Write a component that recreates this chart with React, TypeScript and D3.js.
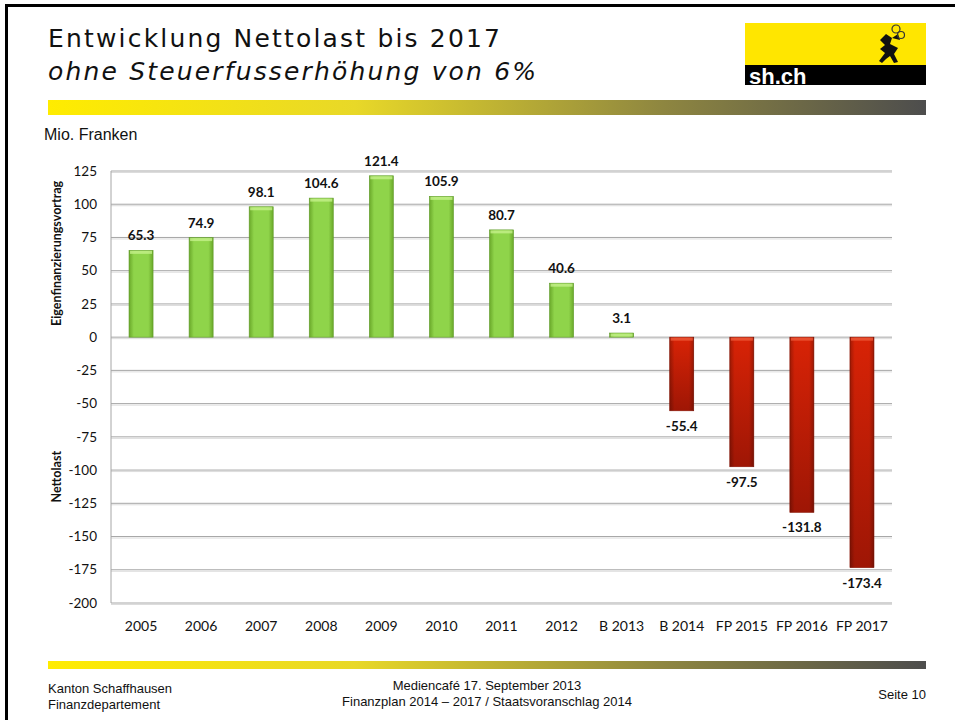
import React, { useEffect, useRef } from 'react';
import * as d3 from 'd3';

const categories = ['2005', '2006', '2007', '2008', '2009', '2010', '2011', '2012', 'B 2013', 'B 2014', 'FP 2015', 'FP 2016', 'FP 2017'];
const values = [65.3, 74.9, 98.1, 104.6, 121.4, 105.9, 80.7, 40.6, 3.1, -55.4, -97.5, -131.8, -173.4];
const yTicks = [125, 100, 75, 50, 25, 0, -25, -50, -75, -100, -125, -150, -175, -200];

const App = () => {
  const svgRef = useRef(null);

  useEffect(() => {
    const svg = d3.select(svgRef.current);
    svg.selectAll('*').remove();

    const defs = svg.append('defs');

    // header / footer bar gradient
    const band = defs.append('linearGradient').attr('id', 'band');
    band.append('stop').attr('offset', '0%').attr('stop-color', '#ffec00');
    band.append('stop').attr('offset', '35%').attr('stop-color', '#e8d828');
    band.append('stop').attr('offset', '70%').attr('stop-color', '#8e8640');
    band.append('stop').attr('offset', '100%').attr('stop-color', '#4d4d4d');

    // bar gradients (cylinder look)
    const green = defs.append('linearGradient').attr('id', 'green');
    green.append('stop').attr('offset', '0%').attr('stop-color', '#6aa82a');
    green.append('stop').attr('offset', '20%').attr('stop-color', '#8fd44a');
    green.append('stop').attr('offset', '80%').attr('stop-color', '#8fd44a');
    green.append('stop').attr('offset', '100%').attr('stop-color', '#6aa82a');
    const red = defs.append('linearGradient').attr('id', 'red').attr('x1', 0).attr('x2', 0).attr('y1', 0).attr('y2', 1);
    red.append('stop').attr('offset', '0%').attr('stop-color', '#d82306');
    red.append('stop').attr('offset', '100%').attr('stop-color', '#9e1605');
    const redSide = defs.append('linearGradient').attr('id', 'redSide');
    redSide.append('stop').attr('offset', '0%').attr('stop-color', '#000').attr('stop-opacity', 0.25);
    redSide.append('stop').attr('offset', '20%').attr('stop-color', '#000').attr('stop-opacity', 0);
    redSide.append('stop').attr('offset', '80%').attr('stop-color', '#000').attr('stop-opacity', 0);
    redSide.append('stop').attr('offset', '100%').attr('stop-color', '#000').attr('stop-opacity', 0.25);

    // slide frame
    svg.append('rect').attr('x', 6.5).attr('y', 5.5).attr('width', 960).attr('height', 730)
      .attr('fill', 'none').attr('stroke', '#000').attr('stroke-width', 3);

    // title
    svg.append('text').attr('x', 48).attr('y', 47).attr('font-family', 'DejaVu Sans, Liberation Sans, sans-serif')
      .attr('font-size', 25).attr('textLength', 452).attr('fill', '#111').text('Entwicklung Nettolast bis 2017');
    svg.append('text').attr('x', 48).attr('y', 80).attr('font-family', 'DejaVu Sans, Liberation Sans, sans-serif')
      .attr('font-size', 25).attr('font-style', 'italic').attr('textLength', 488).attr('fill', '#111')
      .text('ohne Steuerfusserhöhung von 6%');

    // logo
    svg.append('rect').attr('x', 745).attr('y', 23).attr('width', 181).attr('height', 42).attr('fill', '#ffe600');
    svg.append('rect').attr('x', 745).attr('y', 65).attr('width', 181).attr('height', 20).attr('fill', '#000');
    svg.append('text').attr('x', 749).attr('y', 83.5).attr('font-family', 'Liberation Sans, Arial, sans-serif')
      .attr('font-weight', 'bold').attr('font-size', 22).attr('fill', '#fff').text('sh.ch');
    // small ram emblem
    const ram = svg.append('g').attr('transform', 'translate(876,24)').attr('fill', '#111');
    ram.append('path').attr('d', 'M4 16 L10 10 L16 14 L14 20 L22 24 L18 30 L22 38 L18 39 L14 32 L10 35 L6 39 L3 37 L9 29 L4 25 L9 21 Z');
    ram.append('path').attr('d', 'M16 14 L22 10 L24 16 Z');
    ram.append('circle').attr('cx', 20).attr('cy', 5).attr('r', 4).attr('fill', 'none').attr('stroke', '#333').attr('stroke-width', 1.2);
    ram.append('circle').attr('cx', 25).attr('cy', 11).attr('r', 3.5).attr('fill', 'none').attr('stroke', '#333').attr('stroke-width', 1.2);

    // bands
    svg.append('rect').attr('x', 48).attr('y', 100).attr('width', 878).attr('height', 15).attr('fill', 'url(#band)');
    svg.append('rect').attr('x', 48).attr('y', 661).attr('width', 878).attr('height', 8).attr('fill', 'url(#band)');

    // unit
    svg.append('text').attr('x', 44).attr('y', 140).attr('font-family', 'Liberation Sans, Arial, sans-serif')
      .attr('font-size', 16).attr('fill', '#111').text('Mio. Franken');

    // chart
    const left = 111, right = 892;
    const y = d3.scaleLinear().domain([-200, 125]).range([603, 171]);
    const x = d3.scaleBand().domain(categories).range([left, right]).paddingInner(0.6).paddingOuter(0.3);
    const font = 'Lato, Carlito, Calibri, sans-serif';

    const g = svg.append('g');
    g.selectAll('line.grid').data(yTicks).enter().append('line')
      .attr('x1', left).attr('x2', right).attr('y1', d => y(d)).attr('y2', d => y(d))
      .attr('stroke', '#a6a6a6').attr('stroke-width', 1);
    g.selectAll('line.shadow').data(yTicks).enter().append('line')
      .attr('x1', left).attr('x2', right).attr('y1', d => y(d) + 1.5).attr('y2', d => y(d) + 1.5)
      .attr('stroke', '#dcdcdc').attr('stroke-width', 1);
    g.append('line').attr('x1', left).attr('x2', left).attr('y1', y(125)).attr('y2', y(-200))
      .attr('stroke', '#a6a6a6');

    g.selectAll('text.tick').data(yTicks).enter().append('text')
      .attr('x', 97).attr('y', d => y(d)).attr('dy', '0.35em').attr('text-anchor', 'end')
      .attr('font-family', font).attr('font-size', 13.5).attr('fill', '#111').text(d => String(d));

    g.selectAll('text.cat').data(categories).enter().append('text')
      .attr('x', d => x(d) + x.bandwidth() / 2).attr('y', 631).attr('text-anchor', 'middle')
      .attr('font-family', font).attr('font-size', 14).attr('fill', '#111').text(d => d);

    const bars = g.selectAll('g.bar').data(values).enter().append('g');
    bars.append('rect')
      .attr('x', (d, i) => x(categories[i]))
      .attr('y', d => y(Math.max(0, d)))
      .attr('width', x.bandwidth())
      .attr('height', d => Math.abs(y(d) - y(0)))
      .attr('fill', d => (d >= 0 ? 'url(#green)' : 'url(#red)'))
      .attr('stroke', d => (d >= 0 ? '#5e9a26' : '#8a1404')).attr('stroke-width', 0.6);
    bars.filter(d => d < 0).append('rect')
      .attr('x', d => x(categories[values.indexOf(d)]))
      .attr('y', y(0))
      .attr('width', x.bandwidth())
      .attr('height', d => y(d) - y(0))
      .attr('fill', 'url(#redSide)');
    // top bevel highlight
    bars.append('rect')
      .attr('x', (d, i) => x(categories[i]) + 1)
      .attr('y', d => y(Math.max(0, d)) + 0.5)
      .attr('width', x.bandwidth() - 2)
      .attr('height', d => Math.min(3, Math.abs(y(d) - y(0))))
      .attr('fill', d => (d >= 0 ? '#c4f08a' : '#ee5a3a')).attr('opacity', 0.8);

    g.selectAll('text.val').data(values).enter().append('text')
      .attr('x', (d, i) => x(categories[i]) + x.bandwidth() / 2)
      .attr('y', d => (d >= 0 ? y(d) - 10 : y(d) + 10))
      .attr('dy', d => (d >= 0 ? '0' : '0.75em'))
      .attr('text-anchor', 'middle').attr('font-family', font).attr('font-weight', 'bold')
      .attr('font-size', 13.5).attr('fill', '#111').text(d => d.toFixed(1));

    // axis titles
    g.append('text').attr('transform', `translate(61,${y(63)}) rotate(-90)`).attr('text-anchor', 'middle')
      .attr('font-family', font).attr('font-weight', 'bold').attr('font-size', 12.5)
      .attr('fill', '#111').text('Eigenfinanzierungsvortrag');
    g.append('text').attr('transform', `translate(61,${y(-105)}) rotate(-90)`).attr('text-anchor', 'middle')
      .attr('font-family', font).attr('font-weight', 'bold').attr('font-size', 12.5).attr('fill', '#111')
      .text('Nettolast');

    // footer
    const ff = 'Liberation Sans Narrow, Liberation Sans, Arial, sans-serif';
    svg.append('text').attr('x', 48).attr('y', 693).attr('font-family', ff).attr('font-size', 13).attr('fill', '#111').text('Kanton Schaffhausen');
    svg.append('text').attr('x', 48).attr('y', 709).attr('font-family', ff).attr('font-size', 13).attr('fill', '#111').text('Finanzdepartement');
    svg.append('text').attr('x', 487).attr('y', 690).attr('text-anchor', 'middle').attr('font-family', ff).attr('font-size', 13).attr('fill', '#111').text('Mediencafé 17. September 2013');
    svg.append('text').attr('x', 487).attr('y', 706).attr('text-anchor', 'middle').attr('font-family', ff).attr('font-size', 13).attr('fill', '#111').text('Finanzplan 2014 – 2017 / Staatsvoranschlag 2014');
    svg.append('text').attr('x', 926).attr('y', 699).attr('text-anchor', 'end').attr('font-family', ff).attr('font-size', 13).attr('fill', '#111').text('Seite 10');
  }, []);

  return (
    <svg ref={svgRef} width={955} height={720} style={{ position: 'absolute', left: 0, top: 0, background: '#fff' }} />
  );
};

export default App;
